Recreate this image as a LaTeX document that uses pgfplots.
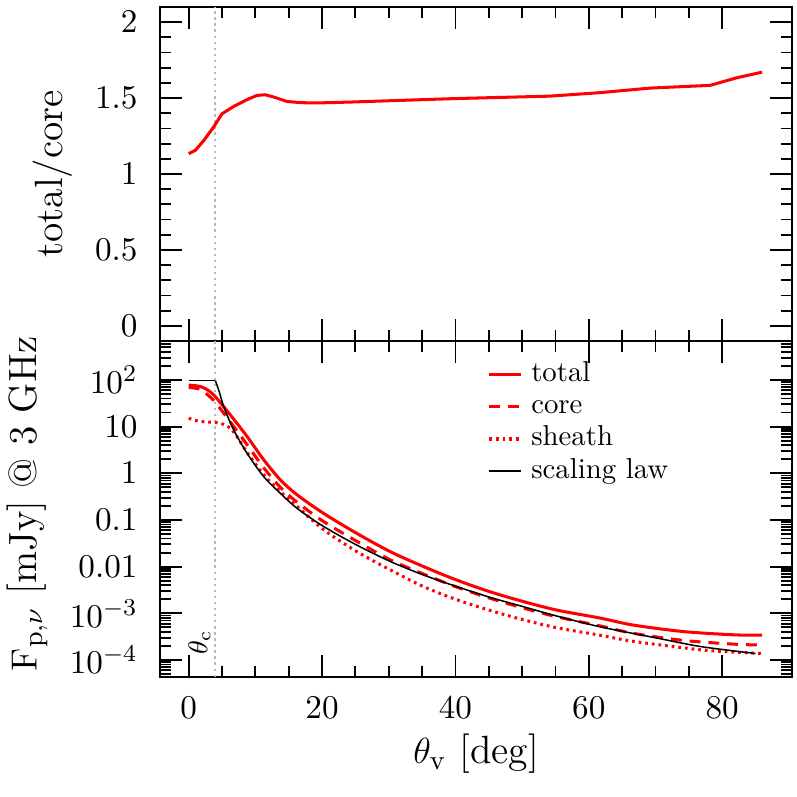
\documentclass[border=0pt]{standalone}
\usepackage{pgfplots}
\pgfplotsset{compat=1.18}
\begin{document}
\begin{tikzpicture}
\pgfplotsset{
  panel/.style={
    scale only axis, width=208.6pt,
    xmin=-4.3, xmax=90.5,
    xtick={0,20,40,60,80}, minor x tick num=3,
    tick align=inside, tick pos=both,
    major tick length=7.3pt, minor tick length=3.6pt,
    axis line style={line width=0.7pt},
    every tick/.style={black, line width=0.6pt},
    tick label style={font=\fontsize{11}{13}\selectfont},
    xticklabel style={yshift=-3pt},
    yticklabel style={xshift=-3.9pt},
  },
}
% ---------------- top panel ----------------
\begin{axis}[panel, at={(52.8pt,150.48pt)}, anchor=south west, height=110.2pt,
  ymin=-0.1, ymax=2.1, ytick={0,0.5,1,1.5,2}, minor y tick num=4,
  xticklabels={},
  ylabel={total/core},
  every axis y label/.style={at={(axis description cs:-0.155,0.5)}, rotate=90, anchor=base, font=\fontsize{13}{15}\selectfont},
]
\addplot[gray!55, dash pattern=on 0.8pt off 1.2pt, line width=0.7pt, forget plot] coordinates {(4,-0.1) (4,2.1)};
\addplot[red, line width=1pt] coordinates {
(0,1.134) (1.0,1.156) (2.25,1.22) (3.75,1.31) (5.0,1.397) (6.75,1.445) (8.75,1.49)
(10.25,1.518) (11.5,1.522) (12.75,1.507) (14.75,1.478) (16.75,1.47) (19.25,1.468)
(24.25,1.474) (31.75,1.485) (40,1.497) (54.2,1.513) (61.7,1.536) (69.2,1.566)
(78.2,1.584) (82.2,1.634) (86,1.671)};
\end{axis}
% ---------------- bottom panel ----------------
\begin{axis}[panel, ymode=log, at={(52.8pt,39.6pt)}, anchor=south west, height=110.9pt,
  ymin=4.33e-5, ymax=685,
  ytick={1e-4,1e-3,1e-2,1e-1,1,10,100},
  yticklabels={$10^{-4}$,$10^{-3}$,$0.01$,$0.1$,$1$,$10$,$10^{2}$},
  minor ytick={5e-5,6e-5,7e-5,8e-5,9e-5,
    2e-4,3e-4,4e-4,5e-4,6e-4,7e-4,8e-4,9e-4,
    2e-3,3e-3,4e-3,5e-3,6e-3,7e-3,8e-3,9e-3,
    2e-2,3e-2,4e-2,5e-2,6e-2,7e-2,8e-2,9e-2,
    0.2,0.3,0.4,0.5,0.6,0.7,0.8,0.9,
    2,3,4,5,6,7,8,9,
    20,30,40,50,60,70,80,90,
    200,300,400,500,600},
  xlabel={$\theta_{\rm v}$ [deg]},
  every axis x label/.style={at={(axis description cs:0.5,-0.229)}, anchor=center, font=\fontsize{13}{15}\selectfont},
  ylabel={$\mathrm{F_{p,\nu}}$ [mJy] @ 3 GHz},
  every axis y label/.style={at={(axis description cs:-0.195,0.515)}, rotate=90, anchor=base, font=\fontsize{13}{15}\selectfont},
  legend style={draw=none, fill=none, at={(axis description cs:0.503,0.958)}, anchor=north west,
    font=\fontsize{9.5}{11}\selectfont, row sep=2pt,
    nodes={inner sep=0.3pt, text height=6.3pt, text depth=1.7pt}},
  legend cell align=left,
  legend image code/.code={\draw[#1] (0cm,0cm) -- (0.37cm,0cm); \path (0.46cm,0cm);},
]
\addplot[gray!55, dash pattern=on 0.8pt off 1.2pt, line width=0.7pt, forget plot] coordinates {(4,4.33e-5) (4,685)};
\addplot[black, line width=0.5pt, forget plot] coordinates {(0,97) (4,97)};
\addplot[red, line width=1pt, smooth] coordinates {
(0,77.6) (1.75,72.4) (3,58.9) (4,43.7) (6.25,17.8) (8.75,6.17) (11.25,1.95) (13.75,0.724)
(16.25,0.347) (20.25,0.138) (25.25,0.0513) (30.25,0.0209) (35.25,0.0100) (40.25,5.13e-3)
(45.25,2.88e-3) (50.25,1.78e-3) (55.25,1.17e-3) (61.75,7.9e-4) (66.7,5.6e-4) (74.2,4.07e-4)
(81.7,3.47e-4) (86,3.4e-4)};
\addlegendentry{total}
\addplot[red, line width=1pt, smooth, dash pattern=on 3.6pt off 2.6pt] coordinates {
(0,69.2) (1.75,63.1) (3,46) (4,33.1) (6.25,12.6) (8.75,4.12) (11.25,1.318) (13.75,0.501)
(16.25,0.240) (20.25,0.0923) (25.25,0.0347) (30.25,0.01396) (35.25,6.92e-3) (40.25,3.63e-3)
(45.25,2.09e-3) (50.25,1.29e-3) (55.25,8.41e-4) (61.75,5.37e-4) (66.7,3.72e-4) (74.2,2.63e-4)
(81.7,2.19e-4) (86,2.09e-4)};
\addlegendentry{core}
\addplot[red, line width=1pt, smooth, dash pattern=on 0.9pt off 1.3pt] coordinates {
(0,15.1) (1.75,12.9) (4,12.3) (5.25,11.2) (6.25,9.2) (7.25,6.1) (8.75,2.82) (11.25,0.933)
(13.75,0.407) (16.25,0.195) (20.25,0.0617) (25.25,0.0209) (30.25,8.51e-3) (35.25,3.72e-3)
(40.25,1.95e-3) (45.25,1.15e-3) (50.25,7.24e-4) (55.25,4.9e-4) (61.75,3.39e-4) (66.7,2.51e-4)
(76.7,1.66e-4) (81.7,1.48e-4) (86,1.38e-4)};
\addlegendentry{sheath}
\addplot[black, line width=0.5pt, smooth] coordinates {
(4,97) (4.6,55) (5.25,26.9) (6.75,8.51) (8.75,2.69) (11.25,0.851) (13.75,0.372) (16.25,0.178)
(20.25,0.0724) (25.25,0.0288) (30.25,0.0129) (35.25,6.61e-3) (40.25,3.72e-3) (45.25,2.19e-3)
(50.25,1.38e-3) (55.25,8.71e-4) (61.75,5.13e-4) (70,3.0e-4) (76.7,1.95e-4) (85,1.38e-4)};
\addlegendentry{scaling law}
\node[rotate=90, anchor=base, font=\small] at (axis cs:2.8,2.45e-4) {$\theta_{\rm c}$};
\end{axis}
\pgfresetboundingbox
\path[use as bounding box] (0,0) rectangle (263pt,263pt);
\end{tikzpicture}
\end{document}
